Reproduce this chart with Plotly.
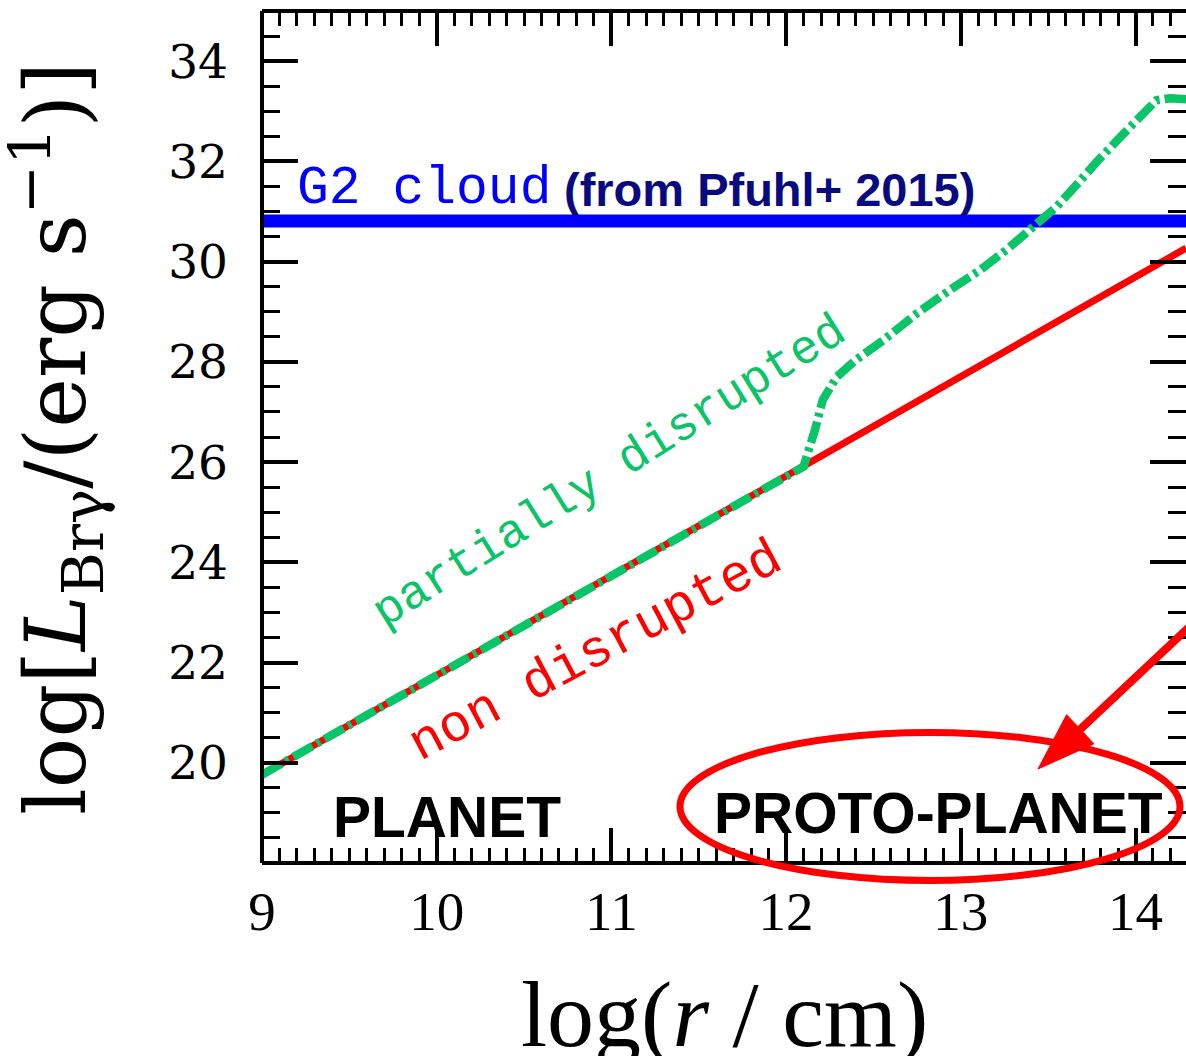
import plotly.graph_objects as go

# ---------------- data ----------------
x_non = [9.0, 14.29]
y_non = [19.76, 30.27]

x_partial = [9.0, 12.10, 12.165, 12.21, 12.29, 12.40, 12.56, 12.75, 12.94,
             13.11, 13.26, 13.40, 13.55, 13.67, 13.78, 13.97, 14.12, 14.20, 14.29]
y_partial = [19.76, 25.91, 26.64, 27.24, 27.70, 28.04, 28.44, 28.97, 29.44,
             29.83, 30.23, 30.63, 31.10, 31.56, 32.00, 32.69, 33.22, 33.26, 33.24]

x_g2 = [9.0, 14.29]
y_g2 = [30.81, 30.81]

x_ticks = [9, 10, 11, 12, 13, 14]
y_ticks = [20, 22, 24, 26, 28, 30, 32, 34]

# ---------------- layout constants ----------------
W, H = 1186, 1056
ML, MR, MT, MB = 262, 0, 11, 193
PW, PH = W - ML - MR, H - MT - MB

def pxx(p):  # pixel -> paper (x)
    return (p - ML) / PW

def pxy(p):  # pixel -> paper (y)
    return (H - MB - p) / PH

GREEN = "#0ac468"
RED = "#ff0000"
BLUE = "#0000ff"
NAVY = "#0a0a80"

fig = go.Figure()

fig.add_trace(go.Scatter(x=x_g2, y=y_g2, mode="lines",
                         line=dict(color=BLUE, width=13), showlegend=False))
fig.add_trace(go.Scatter(x=x_non, y=y_non, mode="lines",
                         line=dict(color=RED, width=7), showlegend=False))
fig.add_trace(go.Scatter(x=x_partial, y=y_partial, mode="lines",
                         line=dict(color=GREEN, width=8.5, dash="22px,5px,4px,5px"),
                         showlegend=False))

axis_common = dict(
    ticks="inside", showline=False, mirror="ticks", showgrid=False,
    zeroline=False, tickcolor="black", tickwidth=3.5,
)

fig.update_xaxes(range=[9, 14.289], tickvals=x_ticks, ticklen=35,
                 tickfont=dict(family="Liberation Serif", size=55, color="black"),
                 minor=dict(dtick=0.1, tick0=9, ticklen=15, tickwidth=3,
                            tickcolor="black", ticks="inside", showgrid=False),
                 ticklabelstandoff=11,
                 **axis_common)
fig.update_yaxes(range=[18, 35], tickvals=y_ticks, ticklen=36,
                 tickfont=dict(family="DejaVu Serif", size=47, color="black"),
                 minor=dict(dtick=0.5, tick0=18, ticklen=18, tickwidth=3,
                            tickcolor="black", ticks="inside", showgrid=False),
                 ticklabelstandoff=33,
                 **axis_common)

# frame (left, top, bottom)
frame = dict(type="line", xref="paper", yref="paper",
             line=dict(color="black", width=4), layer="above")
fig.add_shape(x0=0, x1=0, y0=0, y1=1, **frame)
fig.add_shape(x0=0, x1=1.01, y0=1, y1=1, **frame)
fig.add_shape(x0=0, x1=1.01, y0=0, y1=0, **frame)

# ellipse around PROTO-PLANET
fig.add_shape(type="circle", xref="paper", yref="paper",
              x0=pxx(680), x1=pxx(1180), y0=pxy(880.5), y1=pxy(732.5),
              line=dict(color=RED, width=7), layer="above")

# arrow: shaft + head
tip = (1038, 769)
ux, uy = 0.729, -0.685
hl, hw = 58, 20
bx, by = tip[0] + hl * ux, tip[1] + hl * uy
c1 = (bx + hw * 0.685, by + hw * 0.729)
c2 = (bx - hw * 0.685, by - hw * 0.729)
fig.add_shape(type="line", xref="paper", yref="paper",
              x0=pxx(bx - 4 * ux), y0=pxy(by - 4 * uy),
              x1=pxx(bx + 220 * ux), y1=pxy(by + 220 * uy),
              line=dict(color=RED, width=8), layer="above")
fig.add_shape(type="path", xref="paper", yref="paper",
              path=f"M {pxx(tip[0])},{pxy(tip[1])} L {pxx(c1[0])},{pxy(c1[1])} "
                   f"L {pxx(c2[0])},{pxy(c2[1])} Z",
              fillcolor=RED, line=dict(color=RED, width=1), layer="above")

ann = []
# axis titles
ann.append(dict(text="log(<i>r</i>\u2005/\u2005cm)", xref="paper", yref="paper",
                x=0.5, y=pxy(1014), xanchor="center", yanchor="middle",
                showarrow=False,
                font=dict(family="Liberation Serif", size=94, color="black")))
ann.append(dict(text="log[<i>L</i><sub>Brγ</sub>/(erg s<sup>−1</sup>)]",
                xref="paper", yref="paper", x=pxx(56), y=pxy(439),
                xanchor="center", yanchor="middle", textangle=-90,
                showarrow=False,
                font=dict(family="DejaVu Serif", size=84, color="black")))
# G2 cloud label
ann.append(dict(text="G2 cloud", xref="x", yref="y", x=9.189, y=31.44,
                xanchor="left", yanchor="middle", showarrow=False,
                font=dict(family="Liberation Mono", size=53, color=BLUE)))
ann.append(dict(text="<b>(from Pfuhl+ 2015)</b>", xref="x", yref="y",
                x=10.72, y=31.44, xanchor="left", yanchor="middle",
                showarrow=False,
                font=dict(family="Liberation Sans", size=47, color=NAVY)))
# curve labels
ann.append(dict(text="partially disrupted", xref="x", yref="y",
                x=10.99, y=25.80, textangle=-32, showarrow=False,
                font=dict(family="Liberation Mono", size=48, color=GREEN)))
ann.append(dict(text="non disrupted", xref="x", yref="y",
                x=10.91, y=22.22, textangle=-28, showarrow=False,
                font=dict(family="Liberation Mono", size=53, color=RED)))
# regime labels
ann.append(dict(text="<b>PLANET</b>", xref="x", yref="y", x=10.059, y=18.92,
                showarrow=False,
                font=dict(family="Liberation Sans", size=57, color="black")))
ann.append(dict(text="<b>PROTO-PLANET</b>", xref="x", yref="y", x=12.872,
                y=19.0, showarrow=False,
                font=dict(family="Liberation Sans", size=57, color="black")))

fig.update_layout(width=W, height=H,
                  margin=dict(l=ML, r=MR, t=MT, b=MB, pad=0),
                  paper_bgcolor="white", plot_bgcolor="white",
                  annotations=ann, showlegend=False)

fig.write_html("out.html")
